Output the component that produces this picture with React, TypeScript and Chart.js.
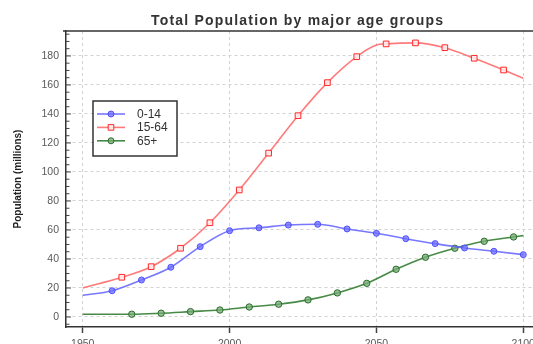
import React, { useEffect, useRef } from "react";
import { Chart, registerables } from "chart.js";

Chart.register(...registerables);

const chartTitle = "Total Population by major age groups";
const yAxisTitle = "Population (millions)";
const seriesLabels = ["0-14", "15-64", "65+"];
const xTicks = [1950, 2000, 2050, 2100];
const yMajorTicks = [0, 20, 40, 60, 80, 100, 120, 140, 160, 180];
const yMinorStep = 5;

// 0-14
const years014 = [1950, 1960, 1970, 1980, 1990, 2000, 2010, 2020, 2030, 2040, 2050, 2060, 2070, 2080, 2090, 2100];
const pop014 = [15, 18.1, 25.5, 34.3, 48.5, 59.5, 61.5, 63.4, 63.9, 60.7, 57.7, 54, 50.6, 47.6, 45.3, 43];
const unmarked014 = [1950];

// 15-64
const years1564 = [1950, 1963.3, 1973.3, 1983.3, 1993.3, 2003.3, 2013.3, 2023.3, 2033.3, 2043.3, 2050, 2053.3, 2063.3, 2073.3, 2083.3, 2093.3, 2100];
const pop1564 = [20, 27.4, 34.7, 47.4, 65, 87.6, 113, 138.8, 161.6, 179.5, 187.5, 188.3, 189, 185.7, 178.4, 170.3, 164.6];
const unmarked1564 = [1950, 2050, 2100];

// 65+
const years65 = [1950, 1966.7, 1976.7, 1986.7, 1996.7, 2006.7, 2016.7, 2026.7, 2036.7, 2046.7, 2056.7, 2066.7, 2076.7, 2086.7, 2096.7, 2100];
const pop65 = [1.9, 1.9, 2.6, 3.7, 4.8, 6.9, 8.8, 11.8, 16.6, 23.2, 32.9, 41.2, 47.4, 52.2, 55.2, 56.1];
const unmarked65 = [1950, 2100];

const FONT = "'Liberation Sans', Arial, Helvetica, sans-serif";

function toPoints(xs: number[], ys: number[]) {
  return xs.map((x, i) => ({ x, y: ys[i] }));
}

function radiusFor(unmarked: number[], r: number) {
  return (ctx: any) => {
    const p = ctx.raw;
    if (!p) return 0;
    return unmarked.includes(p.x) ? 0 : r;
  };
}

const decorPlugin = {
  id: "decor",
  afterDraw(chart: any) {
    const { ctx, chartArea, scales } = chart;
    const y = scales.y;
    const x = scales.x;
    ctx.save();
    // top frame line
    ctx.strokeStyle = "#333";
    ctx.lineWidth = 1.5;
    ctx.beginPath();
    ctx.moveTo(chartArea.left - 3, chartArea.top);
    ctx.lineTo(chartArea.right, chartArea.top);
    ctx.stroke();
    // inward y ticks
    ctx.lineWidth = 1;
    ctx.strokeStyle = "#444";
    y.ticks.forEach((t: any) => {
      const py = y.getPixelForValue(t.value);
      const major = yMajorTicks.includes(t.value);
      ctx.beginPath();
      ctx.moveTo(chartArea.left, py);
      ctx.lineTo(chartArea.left + (major ? 5 : 3.5), py);
      ctx.stroke();
    });
    // title
    ctx.fillStyle = "#333";
    ctx.font = `bold 14px ${FONT}`;
    ctx.textAlign = "center";
    ctx.textBaseline = "alphabetic";
    try {
      (ctx as any).letterSpacing = "1.2px";
    } catch (e) {}
    const cx = (chartArea.left + x.getPixelForValue(xTicks[xTicks.length - 1])) / 2 + 3;
    ctx.fillText(chartTitle, cx, 25);
    try {
      (ctx as any).letterSpacing = "0px";
    } catch (e) {}
    // legend
    const lx = chartArea.left + 27;
    const ly = chartArea.top + 70;
    const lw = 84;
    const lh = 55;
    ctx.fillStyle = "#ffffff";
    ctx.fillRect(lx, ly, lw, lh);
    ctx.strokeStyle = "#333";
    ctx.lineWidth = 1.5;
    ctx.strokeRect(lx, ly, lw, lh);
    chart.data.datasets.forEach((ds: any, i: number) => {
      const ry = ly + 13 + i * 13.4;
      ctx.strokeStyle = ds.borderColor;
      ctx.lineWidth = ds.borderWidth;
      ctx.beginPath();
      ctx.moveTo(lx + 4, ry);
      ctx.lineTo(lx + 32, ry);
      ctx.stroke();
      const mx = lx + 18;
      ctx.fillStyle = ds.pointBackgroundColor;
      ctx.strokeStyle = ds.pointBorderColor;
      ctx.lineWidth = 1;
      ctx.beginPath();
      if (ds.pointStyle === "rect") {
        ctx.rect(mx - 2.8, ry - 2.8, 5.6, 5.6);
      } else {
        ctx.arc(mx, ry, 3, 0, Math.PI * 2);
      }
      ctx.fill();
      ctx.stroke();
      ctx.fillStyle = "#333";
      ctx.font = `12px ${FONT}`;
      ctx.textAlign = "left";
      ctx.textBaseline = "middle";
      ctx.fillText(ds.label, lx + 44, ry + 0.5);
    });
    ctx.restore();
  },
};

export default function App() {
  const ref = useRef<HTMLCanvasElement | null>(null);

  useEffect(() => {
    if (!ref.current) return;
    const chart = new Chart(ref.current, {
      type: "line",
      data: {
        datasets: [
          {
            label: seriesLabels[0],
            data: toPoints(years014, pop014),
            borderColor: "rgba(95,95,255,0.85)",
            borderWidth: 1.6,
            pointStyle: "circle",
            pointBackgroundColor: "rgba(110,110,255,0.75)",
            pointBorderColor: "rgba(70,70,255,0.9)",
            pointBorderWidth: 1,
            pointRadius: radiusFor(unmarked014, 3),
            cubicInterpolationMode: "monotone",
          } as any,
          {
            label: seriesLabels[1],
            data: toPoints(years1564, pop1564),
            borderColor: "rgba(255,100,100,0.85)",
            borderWidth: 1.6,
            pointStyle: "rect",
            pointBackgroundColor: "rgba(255,235,235,0.9)",
            pointBorderColor: "rgba(255,40,40,1)",
            pointBorderWidth: 1,
            pointRadius: radiusFor(unmarked1564, 4),
            cubicInterpolationMode: "monotone",
          } as any,
          {
            label: seriesLabels[2],
            data: toPoints(years65, pop65),
            borderColor: "rgba(50,125,50,0.9)",
            borderWidth: 1.6,
            pointStyle: "circle",
            pointBackgroundColor: "rgba(120,170,120,0.75)",
            pointBorderColor: "rgba(40,110,40,1)",
            pointBorderWidth: 1,
            pointRadius: radiusFor(unmarked65, 3.2),
            cubicInterpolationMode: "monotone",
          } as any,
        ],
      },
      options: {
        responsive: false,
        animation: false,
        devicePixelRatio: 1,
        layout: { padding: { top: 31, right: 20, bottom: 0, left: 0 } },
        plugins: {
          legend: { display: false },
          title: { display: false },
          tooltip: { enabled: false },
        },
        scales: {
          x: {
            type: "linear",
            min: 1944.3,
            max: 2105.7,
            afterBuildTicks: (scale: any) => {
              scale.ticks = xTicks.map((v) => ({ value: v }));
            },
            afterFit: (scale: any) => {
              scale.height = 33;
            },
            border: { display: true, color: "#333", width: 1.5, dash: [3, 3] },
            grid: {
              display: true,
              color: "#d2d2d2",
              lineWidth: 1,
              drawTicks: true,
              tickLength: 6,
              tickColor: "#444",
              tickWidth: 1.5,
              tickBorderDash: [],
            },
            ticks: {
              padding: 5,
              color: "#5a5a5a",
              font: { family: FONT, size: 10.5 },
              maxRotation: 0,
              autoSkip: false,
              callback: (v: any) => String(v),
            },
          } as any,
          y: {
            type: "linear",
            min: -6.9,
            max: 197.2,
            afterBuildTicks: (scale: any) => {
              const ticks: any[] = [];
              for (let v = -yMinorStep; v <= yMajorTicks[yMajorTicks.length - 1] + 3 * yMinorStep; v += yMinorStep) {
                ticks.push({ value: v });
              }
              scale.ticks = ticks;
            },
            afterFit: (scale: any) => {
              scale.width = 66;
            },
            border: { display: true, color: "#333", width: 1.5, dash: [3, 3] },
            grid: {
              display: true,
              drawTicks: false,
              lineWidth: 1,
              color: (ctx: any) =>
                ctx.tick && yMajorTicks.includes(ctx.tick.value) ? "#d2d2d2" : "rgba(0,0,0,0)",
            },
            title: {
              display: true,
              text: yAxisTitle,
              color: "#222",
              font: { family: FONT, size: 10, weight: "bold" },
              padding: { top: 12, bottom: 0 },
            },
            ticks: {
              padding: 7,
              color: "#5a5a5a",
              font: { family: FONT, size: 10.5 },
              autoSkip: false,
              callback: (v: any) => (yMajorTicks.includes(v) ? String(v) : ""),
            },
          } as any,
        },
      },
      plugins: [decorPlugin],
    });
    return () => chart.destroy();
  }, []);

  return (
    <div
      style={{
        position: "fixed",
        left: 0,
        top: 0,
        width: 533,
        height: 344,
        overflow: "hidden",
        background: "#fff",
      }}
    >
      <canvas ref={ref} width={560} height={360} style={{ display: "block" }} />
    </div>
  );
}
